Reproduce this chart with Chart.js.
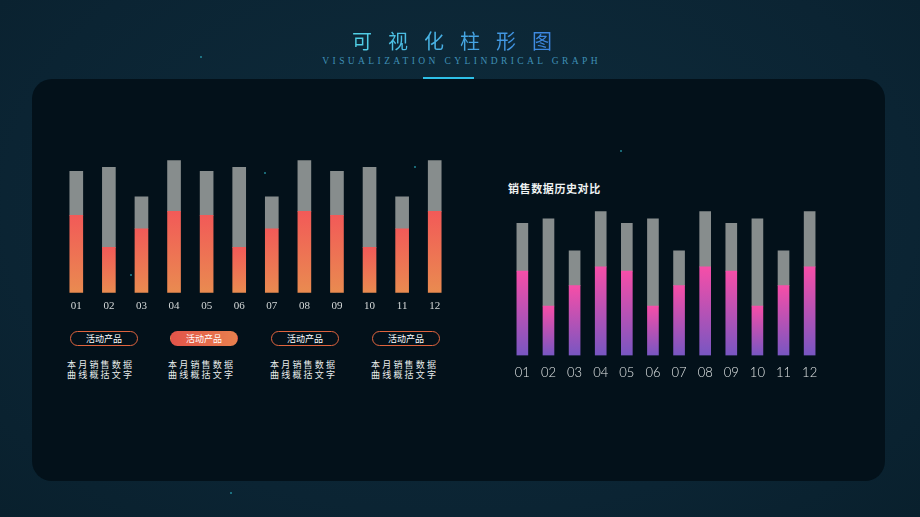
<!DOCTYPE html>
<html lang="zh">
<head>
<meta charset="utf-8">
<title>可视化柱形图</title>
<script src="https://cdn.jsdelivr.net/npm/chart.js@4/dist/chart.umd.min.js"></script>
<style>
  html, body { margin: 0; padding: 0; }
  body {
    width: 920px; height: 517px; overflow: hidden; position: relative;
    background: radial-gradient(ellipse at 50% 40%, #0e2c3c 0%, #0b2433 70%, #09202d 100%);
    font-family: "Noto Sans CJK SC", "Noto Sans", sans-serif;
  }
  .title {
    position: absolute; left: 340px; top: 26px; width: 240px; text-align: center;
    font-size: 20px; line-height: 30px; letter-spacing: 16px;
    background: linear-gradient(90deg, #52d6e6, #3a7ae0);
    -webkit-background-clip: text; background-clip: text; color: transparent;
  }
  .subtitle {
    position: absolute; left: 300px; top: 55px; width: 320px; text-align: center;
    font-family: "Liberation Serif", serif; font-size: 9.5px; line-height: 13px;
    letter-spacing: 3.4px; text-indent: 3.4px; color: #3f8fb5;
  }
  .underline { position: absolute; left: 423px; top: 77px; width: 51px; height: 2px; background: #2ec0e8; }
  .panel {
    position: absolute; left: 32px; top: 79px; width: 853px; height: 402px;
    border-radius: 20px; background: #03111a;
  }
  canvas { position: absolute; }
  #leftChart { left: 60px; top: 150px; }
  #rightChart { left: 505px; top: 200px; }
  .rtitle {
    position: absolute; left: 508px; top: 180px; font-size: 11px; line-height: 16px;
    font-weight: bold; letter-spacing: 0.6px; color: #eef2f2;
  }
  .pill {
    position: absolute; top: 331px; width: 66px; height: 13px; border-radius: 8px;
    border: 1px solid #e0643e; color: #fff; font-size: 9px; line-height: 13px; text-align: center;
  }
  .pill.on { border-color: transparent; background: linear-gradient(90deg, #e2544a, #e8804e); }
  .desc {
    position: absolute; top: 360px; font-size: 9px; line-height: 10px;
    letter-spacing: 2.2px; color: #e8ecec;
  }
  .star { position: absolute; width: 2px; height: 2px; border-radius: 1px; background: #2fb8c8; opacity: .7; }
</style>
</head>
<body>
<div class="title">可视化柱形图</div>
<div class="subtitle">VISUALIZATION CYLINDRICAL GRAPH</div>
<div class="underline"></div>
<div class="panel"></div>

<div class="star" style="left:264px;top:172px"></div>
<div class="star" style="left:130px;top:274px"></div>
<div class="star" style="left:230px;top:492px"></div>
<div class="star" style="left:200px;top:56px"></div>
<div class="star" style="left:620px;top:150px"></div>
<div class="star" style="left:414px;top:166px"></div>

<canvas id="leftChart" width="391" height="170"></canvas>
<div class="rtitle">销售数据历史对比</div>
<canvas id="rightChart" width="322" height="191"></canvas>

<div class="pill" style="left:70px">活动产品</div>
<div class="pill on" style="left:170px">活动产品</div>
<div class="pill" style="left:271px">活动产品</div>
<div class="pill" style="left:372px">活动产品</div>

<div class="desc" style="left:67px">本月销售数据<br>曲线概括文字</div>
<div class="desc" style="left:168px">本月销售数据<br>曲线概括文字</div>
<div class="desc" style="left:270px">本月销售数据<br>曲线概括文字</div>
<div class="desc" style="left:371px">本月销售数据<br>曲线概括文字</div>

<script>
"use strict";

// month labels
const months = ["01", "02", "03", "04", "05", "06", "07", "08", "09", "10", "11", "12"];
// lower coloured segment
const salesValues = [58, 34, 48, 61, 58, 34, 48, 61, 58, 34, 48, 61];
// grey remainder stacked on top
const restValues = [33, 60, 24, 38, 33, 60, 24, 38, 33, 60, 24, 38];
const yMax = 107;

// gradient per bar, from top of segment to baseline
function barGradient(topColor, bottomColor) {
  return (ctx) => {
    const chart = ctx.chart;
    if (!chart.chartArea || ctx.raw == null) return topColor;
    const y = chart.scales.y;
    const top = y.getPixelForValue(ctx.raw);
    const bottom = y.getPixelForValue(0);
    const g = chart.ctx.createLinearGradient(0, top, 0, bottom);
    g.addColorStop(0, topColor);
    g.addColorStop(1, bottomColor);
    return g;
  };
}

function makeChart(id, opts) {
  return new Chart(document.getElementById(id), {
    type: "bar",
    data: {
      labels: months,
      datasets: [
        { data: salesValues, backgroundColor: barGradient(opts.top, opts.bottom), barThickness: opts.bar, borderWidth: 0 },
        { data: restValues, backgroundColor: "#878d8d", barThickness: opts.bar, borderWidth: 0 }
      ]
    },
    options: {
      responsive: false,
      animation: false,
      layout: { padding: 0 },
      plugins: { legend: { display: false }, tooltip: { enabled: false } },
      scales: {
        x: {
          stacked: true,
          grid: { display: false, drawTicks: false },
          border: { display: false },
          ticks: { color: opts.tickColor, padding: opts.pad, font: opts.font }
        },
        y: { stacked: true, display: false, min: 0, max: yMax }
      }
    }
  });
}

makeChart("leftChart", {
  top: "#f25a58", bottom: "#e98b50", bar: 13, pad: 7,
  tickColor: "#d6dada", font: { family: "'Liberation Serif', serif", size: 11 }
});

makeChart("rightChart", {
  top: "#f64ea8", bottom: "#7856c2", bar: 11, pad: 10,
  tickColor: "#e2e6e6", font: { family: "Lato, 'Open Sans', sans-serif", size: 13, weight: 300 }
});
</script>
</body>
</html>
